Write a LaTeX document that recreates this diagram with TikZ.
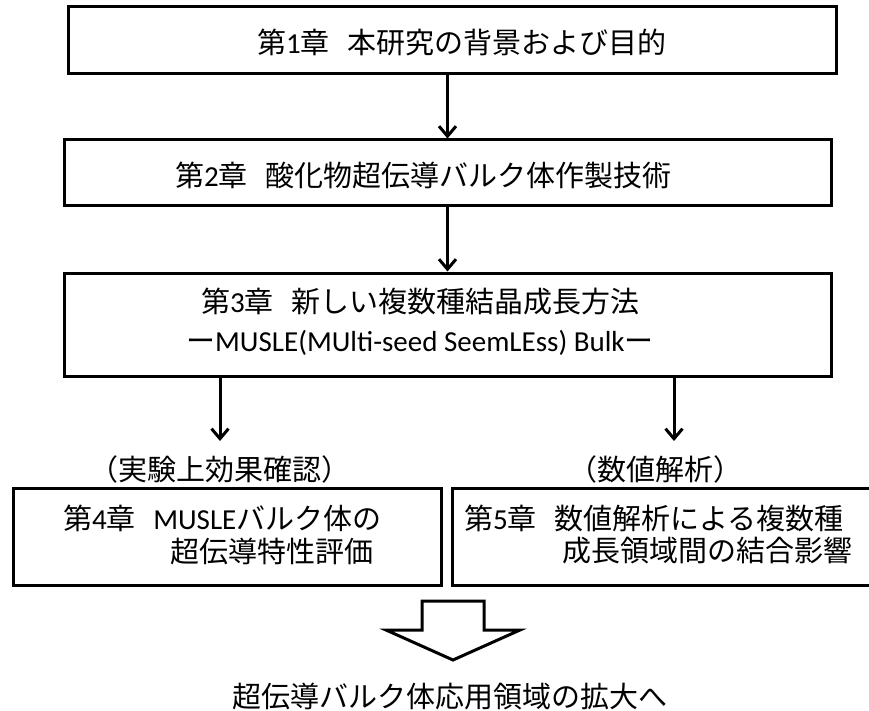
\documentclass[tikz,border=0pt]{standalone}
\usepackage{fontspec}
\setmainfont{Noto Sans CJK JP}
\newfontfamily\lat{Carlito}
\usetikzlibrary{arrows.meta}
\begin{document}
\begin{tikzpicture}[x=1pt,y=-1pt,
  box/.style={draw, line width=3pt, rectangle, inner sep=0pt},
  txt/.style={anchor=base west, inner sep=0pt, font=\fontsize{29}{34}\selectfont},
  ctxt/.style={anchor=base, inner sep=0pt, font=\fontsize{29}{34}\selectfont},
  arr/.style={line width=3pt, -{Straight Barb[length=10pt,width=17pt,line width=3pt]}},
  blockarrow/.style={line width=3pt, fill=white, line join=miter},
]
\useasboundingbox (0,0) rectangle (869,711);
\clip (0,0) rectangle (869,711);
\fill[white] (0,0) rectangle (869,711);

% boxes
\node[box, minimum width=768pt, minimum height=67pt] (b1) at (452,40.5) {};
\node[box, minimum width=767pt, minimum height=66pt] (b2) at (447.5,173) {};
\node[box, minimum width=767pt, minimum height=103pt] (b3) at (447.5,324.5) {};
\node[box, minimum width=428pt, minimum height=97pt] (b4) at (227,536.5) {};
\node[box, minimum width=433pt, minimum height=97pt] (b5) at (668.5,536.5) {};

% texts
\node[txt] (t1) at (257,54) {第{\lat 1}章\hspace{0.6em}本研究の背景および目的};
\node[txt] (t2) at (175,187) {第{\lat 2}章\hspace{0.6em}酸化物超伝導バルク体作製技術};
\node[txt] (t3a) at (201,312) {第{\lat 3}章\hspace{0.6em}新しい複数種結晶成長方法};
\node[txt] (t3b) at (186,351) {ー{\lat MUSLE(MUlti-seed SeemLEss) Bulk}ー};
\node[txt] (t4a) at (63,529) {第{\lat 4}章\hspace{0.6em}{\lat MUSLE}バルク体の};
\node[txt] (t4b) at (170,562) {超伝導特性評価};
\node[txt] (t5a) at (464,529) {第{\lat 5}章\hspace{0.6em}数値解析による複数種};
\node[txt] (t5b) at (562,561) {成長領域間の結合影響};
\node[ctxt] (l1) at (220,480) {（実験上効果確認）};
\node[ctxt] (l2) at (655,480) {（数値解析）};
\node[ctxt] (t6) at (450,707) {超伝導バルク体応用領域の拡大へ};

% connectors
\coordinate (a3) at (220,441);
\coordinate (a4) at (674,441);
\draw[arr] (b1.south -| b2.north) -- (b2.north);
\draw[arr] (b2.south) -- (b3.north);
\draw[arr] (b3.south -| a3) -- (a3);
\draw[arr] (b3.south -| a4) -- (a4);

% block arrow
\draw[blockarrow] (422,601) -- (484,601) -- (484,630) -- (520,630) -- (453,660) -- (386,630) -- (422,630) -- cycle;
\end{tikzpicture}
\end{document}
